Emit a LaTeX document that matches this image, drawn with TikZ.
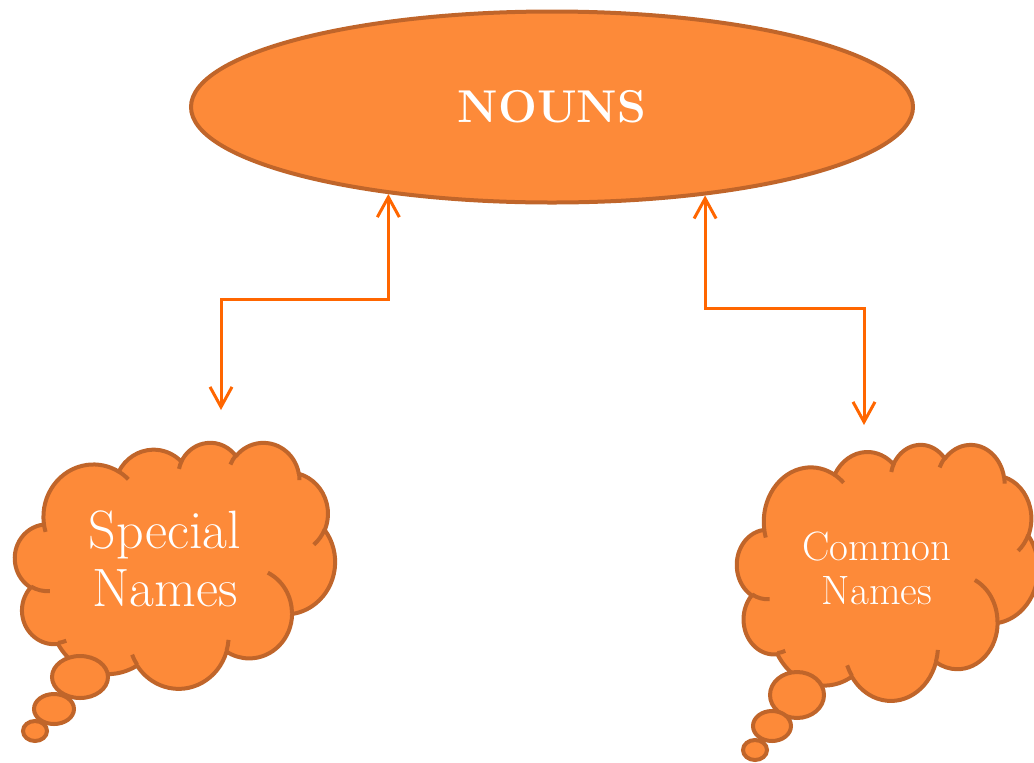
\documentclass[tikz,border=0pt]{standalone}
\usepackage{amsmath}
\usepackage{tikz}
\usepackage{xcolor}
\usetikzlibrary{positioning,shapes.geometric,arrows.meta}
\definecolor{nounfill}{RGB}{253,138,57}
\definecolor{nounline}{RGB}{192,101,42}
\definecolor{arrowline}{RGB}{255,102,0}
% 楕円弧 (見かけの角度で指定)
\newcommand\puffang[4]{%
  \pgfmathparse{atan2(#1*sin(#3),#2*cos(#3))}\xdef\puffst{\pgfmathresult}%
  \pgfmathparse{atan2(#1*sin(#3+#4),#2*cos(#3+#4))}\xdef\puffen{\pgfmathresult}%
  \pgfmathparse{mod(\puffen-\puffst+720,360)}\xdef\puffdl{\pgfmathresult}}
\newcommand\puff[4]{\pgfextra{\puffang{#1}{#2}{#3}{#4}}
  arc[start angle=\puffst,delta angle=\puffdl,x radius=#1,y radius=#2]}
% 雲の形 (432 x 432)
\newcommand\cloudpath{(39,143.7) \puff{67.53}{91.9}{-190.4875}{123.7805}
  \puff{53.33}{72.67}{-144.1024}{89.9452}
  \puff{43.65}{59.45}{-145.8079}{99.723}
  \puff{48.57}{65.95}{-130.9861}{117.2417}
  \puff{53.33}{72.73}{-78.7089}{109.0269}
  \puff{67.75}{92.2}{-46.2673}{130.269}
  \puff{57.85}{78.67}{0.625}{114.0333}
  \puff{67.52}{92.15}{22.4516}{115.1726}
  \puff{77.2}{105.43}{66.2426}{75.711}
  \puff{43.6}{59.18}{-274.9421}{146.7356}
  \puff{43.45}{59.45}{-246.8285}{152.5189} -- cycle}
\newcommand\cloudcreases{(46.93,261.77) \puff{43.45}{59.45}{86.742}{26.4295}
  (69.28,348.99) \puff{43.6}{59.18}{73.6105}{11.4475}
  (164.78,390.9) \puff{67.52}{92.15}{137.6242}{14.0811}
  (288.27,347.51) \puff{67.52}{92.15}{6.4533}{15.9984}
  (341.29,229.54) \puff{57.85}{78.67}{-70.2924}{70.9174}
  (417.98,153.54) \puff{53.33}{72.73}{30.318}{27.7515}
  (383.24,54.26) \puff{48.57}{65.95}{-13.7443}{14.8589}
  (290.78,39.52) \puff{48.57}{65.95}{-149.1815}{18.1954}
  (221.41,47.2) \puff{43.65}{59.45}{-163.4943}{17.6864}
  (140,51.92) \puff{67.53}{91.9}{-66.707}{12.3194}
  (41.27,157.89) \puff{67.53}{91.9}{157.6544}{11.8582}}
\tikzset{
  title/.style={ellipse,draw=nounline,fill=nounfill,line width=2pt,
    minimum width=361pt,minimum height=95.5pt,text=white,
    font=\fontsize{23}{26}\selectfont\bfseries},
  cloudline/.style={draw=nounline,line width=2pt,line join=round},
  tailpuff/.style={draw=nounline,fill=nounfill,line width=2pt},
  cloudtext/.style={text=white,align=center},
  conn/.style={arrowline,line width=1.5pt,<->,
    >={Straight Barb[length=10pt,width=11pt]}}
}
\begin{document}
\begin{tikzpicture}[x=0.5pt,y=-0.5pt]
        \useasboundingbox (0,0) rectangle (1034,762); %枠
        \node[title] (nouns) at (552,107) {NOUNS}; %楕円
        \begin{scope}[shift={(15,442)},x=0.37037pt,y=-0.2847pt] %雲 左
          \draw[cloudline,fill=nounfill] \cloudpath;
          \draw[cloudline] \cloudcreases;
        \end{scope}
        \draw[tailpuff] (80,677) ellipse (28 and 21); %しっぽ 左
        \draw[tailpuff] (54,709) ellipse (20 and 15);
        \draw[tailpuff] (35,731) ellipse (12 and 10);
        \node[cloudtext,font=\fontsize{27}{29}\selectfont] (special) at (165,559) {Special\\Names};
        \begin{scope}[shift={(737,444)},x=0.3484pt,y=-0.2963pt] %雲 右
          \draw[cloudline,fill=nounfill] \cloudpath;
          \draw[cloudline] \cloudcreases;
        \end{scope}
        \draw[tailpuff] (797,695) ellipse (27 and 23); %しっぽ 右
        \draw[tailpuff] (772,726) ellipse (19 and 15);
        \draw[tailpuff] (755,750) ellipse (12 and 10);
        \node[cloudtext,font=\fontsize{20.5}{22}\selectfont] (common) at (877,568) {Common\\Names};
        \coordinate (special-tip) at (221,410); %矢印の先 左
        \coordinate (common-tip) at (864,425); %矢印の先 右
        \draw[conn] (nouns.208.3) -- ++(0,105) -| (special-tip); %矢印 左
        \draw[conn] (nouns.330.2) -- ++(0,113) -| (common-tip); %矢印 右
\end{tikzpicture}
\end{document}
